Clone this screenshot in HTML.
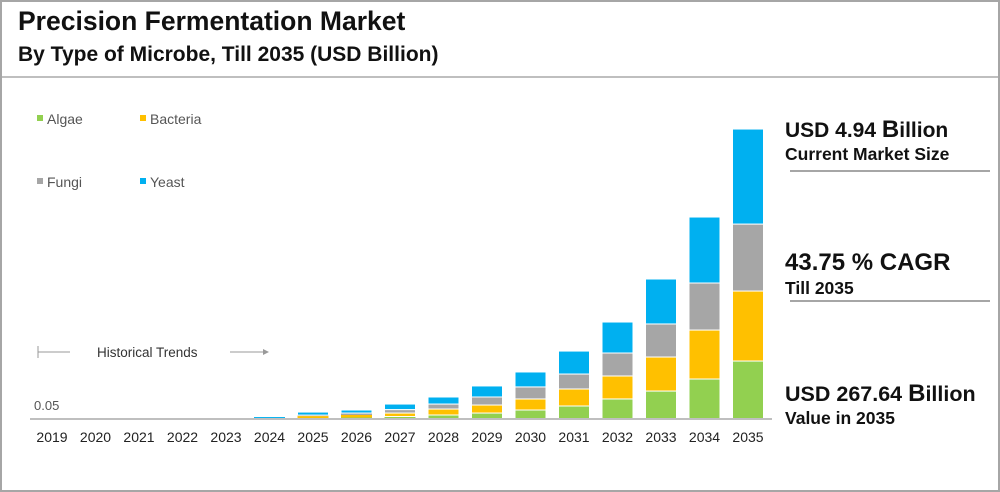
<!DOCTYPE html>
<html><head><meta charset="utf-8"><style>
body{margin:0;width:1000px;height:492px;background:#fff;font-family:"Liberation Sans",sans-serif;overflow:hidden}
.frame{position:absolute;left:0;top:0;width:996px;height:488px;border:2px solid #a6a6a6}
.t1{position:absolute;left:18px;top:6px;font-size:26.5px;font-weight:bold;color:#111}
.t2{position:absolute;left:18px;top:43px;font-size:21px;font-weight:bold;color:#111}
.sep{position:absolute;left:2px;top:76px;width:996px;height:2px;background:#bfbfbf}
.r{position:absolute;left:785px;font-weight:bold;color:#111}
.hr{position:absolute;left:790px;width:200px;height:2px;background:#a6a6a6}
</style></head><body>
<div class="frame"></div>
<div class="t1">Precision Fermentation Market</div>
<div class="t2">By Type of Microbe, Till 2035 (USD Billion)</div>
<div class="sep"></div>
<div class="r" style="top:116px;font-size:21px">USD 4.94 <span style="font-size:24px">B</span>illion</div>
<div class="r" style="top:144px;font-size:17.5px">Current Market Size</div>
<div class="hr" style="top:170px"></div>
<div class="r" style="top:249px;font-size:24px">43.75 % CAGR</div>
<div class="r" style="top:278px;font-size:17.5px">Till 2035</div>
<div class="hr" style="top:300px"></div>
<div class="r" style="top:380px;font-size:21.5px">USD 267.64 <span style="font-size:24px">B</span>illion</div>
<div class="r" style="top:408px;font-size:17.5px">Value in 2035</div>
<svg id="chart" width="1000" height="492" style="position:absolute;left:0;top:0"></svg>
<script>
const years=["2019","2020","2021","2022","2023","2024","2025","2026","2027","2028","2029","2030","2031","2032","2033","2034","2035"];
const algae=[0,0,0,0,0,0.3,0.9,1.4,2.3,3.7,5.5,8.3,12,18.5,25.8,36.9,53.5];
const bacteria=[0,0,0,0,0,0.3,1.8,2.3,3.2,5.5,7.4,10.2,15.7,21.2,31.4,45.2,64.6];
const fungi=[0,0,0,0,0,0.3,0.9,1.8,3.2,4.6,7.4,11.1,13.8,21.2,30.5,43.4,61.8];
const yeast=[0,0,0,0,0,0.9,2.8,2.8,5.1,6.5,10.2,13.8,21.2,28.6,41.5,60.9,87.7];
const seriesNames=["Algae","Bacteria","Fungi","Yeast"];
const colors=["#92d050","#ffc000","#a6a6a6","#00b0f0"];
const svg=document.getElementById('chart');const NS="http://www.w3.org/2000/svg";
const base=419,x0=52,step=43.5,bw=31,kpx=290/267.64;
const xS=i=>x0+i*step, yS=v=>v*kpx;
function mk(t,a){const e=document.createElementNS(NS,t);for(const k in a)e.setAttribute(k,a[k]);svg.appendChild(e);return e;}
const data=[algae,bacteria,fungi,yeast];
years.forEach((y,i)=>{let acc=0;
 data.forEach((s,j)=>{const h=yS(s[i]);if(h<=0)return;
  const r=mk('rect',{x:xS(i)-bw/2,y:base-acc-h,width:bw,height:h,fill:colors[j],stroke:'#fff','stroke-width':h>3?1:0});
  
  
  acc+=h;});
 const t=mk('text',{x:xS(i),y:442,'text-anchor':'middle','font-size':14,fill:'#222','font-family':'Liberation Sans'});t.textContent=y;
 
 
});
const ax=mk('line',{x1:30,x2:772,y1:base,y2:base,stroke:'#bfbfbf','stroke-width':2});


const lab=mk('text',{x:34,y:410,'font-size':13,fill:'#555','font-family':'Liberation Sans'});lab.textContent='0.05';


const lp=[[37,119],[140,119],[37,182],[140,182]];
seriesNames.forEach((n,j)=>{
 const r=mk('rect',{x:lp[j][0],y:lp[j][1]-4,width:6,height:6,fill:colors[j]});
 
 
 const t=mk('text',{x:lp[j][0]+10,y:lp[j][1]+5,'font-size':14,fill:'#555','font-family':'Liberation Sans'});t.textContent=n;
 
 
});
const h1=mk('line',{x1:38,x2:38,y1:346,y2:358,stroke:'#999'});
const h2=mk('line',{x1:38,x2:70,y1:352,y2:352,stroke:'#999'});
const h3=mk('line',{x1:230,x2:264,y1:352,y2:352,stroke:'#999'});
const h4=mk('polygon',{points:'263,349 269,352 263,355',fill:'#999'});
const ht=mk('text',{x:97,y:357,'font-size':13.5,fill:'#333','font-family':'Liberation Sans'});ht.textContent='Historical Trends';


</script>
</body></html>
